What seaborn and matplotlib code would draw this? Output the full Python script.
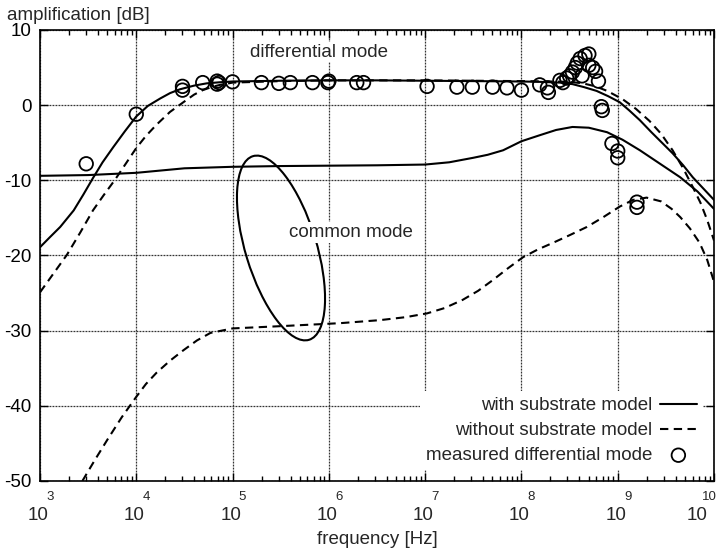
import numpy as np
import matplotlib
matplotlib.use("Agg")
import matplotlib.pyplot as plt
import matplotlib.transforms as mtransforms
from matplotlib.patches import Ellipse
from matplotlib.ticker import LogLocator, NullFormatter
import seaborn as sns

# Frequencies are stored as log10(f / Hz); amplification in dB.

# differential mode, simulated with substrate model
diff_with_logf = [3.00, 3.10, 3.21, 3.35, 3.45, 3.55, 3.65, 3.76, 3.88, 4.00,
                  4.12, 4.25, 4.35, 4.45, 4.60, 4.73, 4.87, 5.00, 5.50, 6.00,
                  6.50, 7.00, 7.50, 8.00, 8.20, 8.40, 8.53, 8.65, 8.78, 8.90,
                  9.02, 9.12, 9.23, 9.35, 9.46, 9.57, 9.68, 9.78, 9.89, 10.00]
diff_with_db = [-18.9, -17.6, -16.2, -14.0, -11.9, -9.7, -7.6, -5.6, -3.5, -1.5,
                -0.1, 0.9, 1.6, 2.1, 2.6, 2.9, 3.05, 3.15, 3.25, 3.3,
                3.3, 3.25, 3.2, 3.15, 3.1, 3.0, 2.8, 2.4, 1.9, 1.2,
                0.4, -0.7, -2.0, -3.6, -5.0, -6.4, -8.0, -9.6, -11.1, -12.6]

# differential mode, simulated without substrate model
diff_without_logf = [3.00, 3.14, 3.28, 3.42, 3.55, 3.66, 3.78, 3.89, 4.00, 4.10,
                     4.21, 4.35, 4.49, 4.60, 4.69, 4.78, 4.87, 5.00, 5.50, 6.00,
                     6.50, 7.00, 7.50, 8.00, 8.30, 8.50, 8.64, 8.77, 8.89, 9.05,
                     9.19, 9.33, 9.45, 9.57, 9.68, 9.78, 9.86, 9.93, 10.00]
diff_without_db = [-24.9, -22.4, -19.9, -16.9, -14.0, -12.0, -9.9, -7.8, -5.7, -4.1,
                   -2.6, -0.9, 0.4, 1.4, 2.0, 2.4, 2.7, 3.0, 3.2, 3.3,
                   3.3, 3.3, 3.25, 3.2, 3.15, 3.1, 2.9, 2.5, 1.9, 0.8,
                   -0.5, -2.1, -3.8, -6.0, -8.4, -10.9, -13.0, -15.3, -18.0]

# common mode, simulated with substrate model
comm_with_logf = [3.00, 3.50, 4.00, 4.25, 4.50, 5.00, 5.50, 6.00, 6.50, 7.00,
                  7.25, 7.50, 7.65, 7.81, 8.00, 8.19, 8.36, 8.53, 8.70, 8.89,
                  9.05, 9.23, 9.44, 9.65, 9.83, 10.00]
comm_with_db = [-9.4, -9.3, -9.0, -8.7, -8.4, -8.2, -8.1, -8.05, -8.0, -7.9,
                -7.6, -7.0, -6.6, -6.0, -4.8, -4.0, -3.3, -2.9, -3.0, -3.6,
                -4.6, -6.0, -7.8, -9.6, -11.5, -13.8]

# common mode, simulated without substrate model
comm_without_logf = [3.44, 3.57, 3.70, 3.85, 4.00, 4.10, 4.21, 4.35, 4.49, 4.63,
                     4.77, 5.00, 5.50, 6.12, 6.53, 6.80, 7.02, 7.20, 7.39, 7.55,
                     7.70, 7.86, 8.02, 8.17, 8.33, 8.50, 8.68, 8.85, 9.02, 9.16,
                     9.30, 9.45, 9.56, 9.65, 9.75, 9.85, 9.93, 10.00]
comm_without_db = [-50.0, -47.2, -44.5, -41.5, -38.8, -37.1, -35.6, -34.0, -32.6, -31.3,
                   -30.3, -29.7, -29.4, -29.0, -28.6, -28.2, -27.7, -27.0, -25.9, -24.7,
                   -23.3, -21.7, -20.2, -19.2, -18.3, -17.3, -16.2, -14.9, -13.5, -12.6,
                   -12.3, -12.8, -13.8, -14.9, -16.4, -18.3, -20.6, -23.5]

# measured differential mode
meas_logf = [3.48, 4.00, 4.48, 4.48, 4.69, 4.84, 4.84, 4.86, 5.00, 5.30,
             5.48, 5.60, 5.83, 5.99, 6.00, 6.29, 6.36, 7.02, 7.33, 7.49,
             7.70, 7.85, 8.00, 8.19, 8.27, 8.28, 8.40, 8.43, 8.47, 8.50,
             8.53, 8.56, 8.58, 8.61, 8.63, 8.66, 8.70, 8.70, 8.74, 8.77,
             8.80, 8.83, 8.84, 8.94, 9.00, 9.00, 9.20, 9.20]
meas_db = [-7.8, -1.2, 2.0, 2.5, 3.0, 2.8, 3.2, 3.0, 3.1, 3.0,
           2.9, 3.0, 3.0, 3.0, 3.2, 3.0, 3.0, 2.5, 2.4, 2.4,
           2.4, 2.3, 2.0, 2.7, 2.3, 1.7, 3.3, 3.0, 3.6, 3.9,
           4.4, 5.0, 5.6, 6.2, 3.9, 6.6, 6.8, 5.3, 5.0, 4.5,
           3.2, -0.2, -0.7, -5.1, -6.1, -7.0, -12.9, -13.6]

x_exponents = [3, 4, 5, 6, 7, 8, 9, 10]
y_ticks = [-50, -40, -30, -20, -10, 0, 10]
y_tick_labels = ["-50", "-40", "-30", "-20", "-10", "0", "10"]

sns.set_style("ticks")
plt.rcParams["font.family"] = ["Liberation Sans", "DejaVu Sans"]
plt.rcParams["axes.unicode_minus"] = False

FS = 13.5
fig = plt.figure(figsize=(7.17, 5.55), dpi=100)
ax = fig.add_axes([40 / 717, 74 / 555, 674 / 717, 451 / 555])
ax.set_xscale("log")

def hz(logf):
    return 10 ** np.asarray(logf, dtype=float)

dash = (0, (4, 2.6))
line_kw = dict(color="black", linewidth=1.5, estimator=None, sort=False, ax=ax)

sns.lineplot(x=hz(diff_with_logf), y=diff_with_db, label="with substrate model", **line_kw)
sns.lineplot(x=hz(diff_without_logf), y=diff_without_db, linestyle=dash,
             label="without substrate model", **line_kw)
sns.lineplot(x=hz(comm_with_logf), y=comm_with_db, **line_kw)
sns.lineplot(x=hz(comm_without_logf), y=comm_without_db, linestyle=dash, **line_kw)

sns.scatterplot(x=hz(meas_logf), y=meas_db, marker="o", s=95, linewidth=1.3,
                label="measured differential mode", ax=ax, zorder=5)
pts = ax.collections[-1]
pts.set_facecolor("none")
pts.set_edgecolor("black")

ax.set_xlim(1e3, 1e10)
ax.set_ylim(-50, 10)
ax.set_xticks([10.0 ** e for e in x_exponents])
ax.xaxis.set_minor_locator(LogLocator(base=10, subs=np.arange(2, 10)))
ax.xaxis.set_minor_formatter(NullFormatter())
ax.set_yticks(y_ticks)
ax.set_yticklabels(y_tick_labels)

ax.grid(True, which="major", color="0.2", linewidth=0.9, linestyle=(0, (1.5, 0.9)))
ax.set_axisbelow(True)
ax.tick_params(which="both", direction="in", top=True, right=True,
               colors="black", labelsize=FS, width=1.0)
ax.tick_params(which="major", length=6)
ax.tick_params(which="minor", length=3.5)
ax.tick_params(axis="x", labelbottom=False)
ax.tick_params(axis="y", pad=6)
for sp in ax.spines.values():
    sp.set_color("black")
    sp.set_linewidth(1.2)

# decade labels: base "10" with a raised exponent to its upper right
for e in x_exponents:
    shift = -15 if e == x_exponents[-1] else 0
    ax.annotate("10", xy=(10.0 ** e, 0), xycoords=("data", "axes fraction"),
                xytext=(-2 + shift, -34), textcoords="offset pixels",
                ha="center", va="center", fontsize=FS, annotation_clip=False)
    ax.annotate(str(e), xy=(10.0 ** e, 0), xycoords=("data", "axes fraction"),
                xytext=(10 + shift, -16), textcoords="offset pixels",
                ha="center", va="center", fontsize=9.5, annotation_clip=False)

ax.set_xlabel("")
ax.set_ylabel("")
fig.text(377 / 717, 1 - 540 / 555, "frequency [Hz]", fontsize=FS,
         ha="center", va="center")
fig.text(7 / 717, 1 - 15 / 555, "amplification [dB]", fontsize=FS,
         ha="left", va="center")

# annotations
ax.text(10 ** 5.897, 7.07, "differential mode", fontsize=FS, ha="center",
        va="center", zorder=6,
        bbox=dict(facecolor="white", edgecolor="none", pad=1.0))
ax.text(10 ** 6.23, -16.9, "common mode", fontsize=FS, ha="center",
        va="center", zorder=6,
        bbox=dict(facecolor="white", edgecolor="none", pad=1.5))

# ellipse marking the common-mode curves (size given in inches)
ell_trans = fig.dpi_scale_trans + mtransforms.ScaledTranslation(
    10 ** 5.503, -19.0, ax.transData)
ax.add_patch(Ellipse((0, 0), width=0.71, height=1.92, angle=17,
                     transform=ell_trans, fill=False, edgecolor="black",
                     linewidth=1.5, zorder=4))

leg = ax.legend(loc="lower right", bbox_to_anchor=(1.0, 0.0), markerfirst=False,
                frameon=True, fancybox=False, framealpha=1.0, facecolor="white",
                edgecolor="none", fontsize=FS, handlelength=2.0,
                handletextpad=0.4, labelspacing=0.42, borderpad=0.3,
                borderaxespad=0.6, scatterpoints=1)
leg.set_zorder(7)

fig.savefig("out.png", dpi=100, facecolor="white")
